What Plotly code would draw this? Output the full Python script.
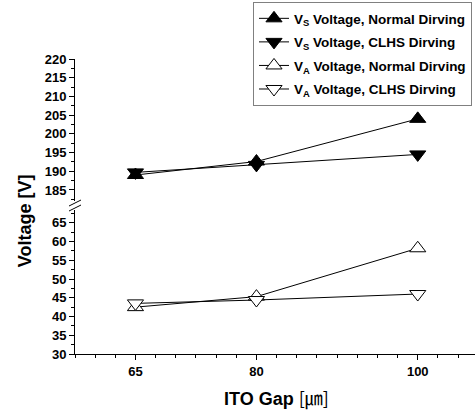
import plotly.graph_objects as go

# ---- data ----
ito_gap = [65, 80, 100]
vs_normal = [189.0, 192.6, 204.0]
vs_clhs = [189.7, 191.7, 194.5]
va_normal = [42.5, 45.3, 58.2]
va_clhs = [43.5, 44.4, 46.0]

series_names = [
    "V<sub>S</sub> Voltage, Normal Dirving",
    "V<sub>S</sub> Voltage, CLHS Dirving",
    "V<sub>A</sub> Voltage, Normal Dirving",
    "V<sub>A</sub> Voltage, CLHS Dirving",
]

x_label_vals = [65, 80, 100]
x_label_text = ["65", "80", "100"]
x_major_tick_vals = [60, 65, 70, 75, 80, 85, 90, 95, 100, 105]

FONT = "Arial, Liberation Sans, sans-serif"

fig = go.Figure()

def add(yvals, name, symbol, filled, yaxis, group):
    fig.add_trace(go.Scatter(
        x=ito_gap, y=yvals, name=name, mode="lines+markers",
        yaxis=yaxis, legendgroup=group,
        line=dict(color="black", width=1),
        marker=dict(symbol=symbol, size=14,
                    color="black" if filled else "white",
                    line=dict(color="black", width=1)),
    ))

add(vs_normal, series_names[0], "triangle-up", True, "y2", "g1")
add(vs_clhs, series_names[1], "triangle-down", True, "y2", "g2")
add(va_normal, series_names[2], "triangle-up", False, "y", "g3")
add(va_clhs, series_names[3], "triangle-down", False, "y", "g4")

tickfont = dict(family=FONT, size=13, color="black", weight="bold")
XR = [57.5, 107.1]

fig.update_layout(
    width=475, height=410,
    margin=dict(l=75, r=0, t=59, b=56),
    paper_bgcolor="white", plot_bgcolor="white",
    showlegend=True,
    legend=dict(
        x=0.9925, xanchor="right", y=1.193, yanchor="top",
        bgcolor="white", bordercolor="#808080", borderwidth=1,
        font=dict(family=FONT, size=13.5, color="black", weight="bold"),
        tracegroupgap=3, itemwidth=30,
    ),
    xaxis=dict(
        range=XR, showgrid=False, zeroline=False,
        showline=True, linecolor="black", linewidth=1,
        ticks="outside", ticklen=5, tickcolor="black",
        tickvals=x_label_vals, ticktext=x_label_text,
        minor=dict(dtick=2.5, tick0=60, ticks="outside", ticklen=3, tickcolor="black"),
        tickfont=tickfont,
    ),
    xaxis2=dict(
        range=XR, overlaying="x", anchor="y", side="bottom",
        showgrid=False, zeroline=False, showline=False,
        ticks="outside", ticklen=5, tickcolor="black",
        tickvals=x_major_tick_vals, showticklabels=False,
    ),
    yaxis=dict(
        domain=[0, 0.488], range=[30, 68.4], showgrid=False, zeroline=False,
        showline=True, linecolor="black", linewidth=1,
        ticks="outside", ticklen=5, tickcolor="black",
        tick0=30, dtick=5,
        minor=dict(dtick=2.5, tick0=30, ticks="outside", ticklen=3, tickcolor="black"),
        tickfont=tickfont,
    ),
    yaxis2=dict(
        domain=[0.518, 1], range=[182, 220], showgrid=False, zeroline=False,
        showline=True, linecolor="black", linewidth=1,
        ticks="outside", ticklen=5, tickcolor="black",
        tick0=185, dtick=5,
        minor=dict(dtick=2.5, tick0=185, ticks="outside", ticklen=3, tickcolor="black"),
        tickfont=tickfont, anchor="x",
    ),
    annotations=[
        dict(text="Voltage [V]", xref="paper", yref="paper",
             x=-0.125, y=0.45, textangle=-90, showarrow=False,
             xanchor="center", yanchor="middle",
             font=dict(family=FONT, size=18, color="black", weight="bold")),
        dict(text="ITO Gap <span style='font-family:Noto Sans CJK KR;font-weight:normal'>[㎛]</span>",
             xref="paper", yref="paper",
             x=0.503, y=-0.146, showarrow=False,
             xanchor="center", yanchor="middle",
             font=dict(family=FONT, size=18, color="black", weight="bold")),
    ],
    shapes=[
        dict(type="line", xref="paper", yref="paper",
             x0=(69 - 75) / 400, x1=(81 - 75) / 400,
             y0=(354 - 206) / 295, y1=(354 - 200) / 295,
             line=dict(color="black", width=1)),
        dict(type="line", xref="paper", yref="paper",
             x0=(69 - 75) / 400, x1=(81 - 75) / 400,
             y0=(354 - 211) / 295, y1=(354 - 205) / 295,
             line=dict(color="black", width=1)),
    ],
)

fig.write_html("out.html")
